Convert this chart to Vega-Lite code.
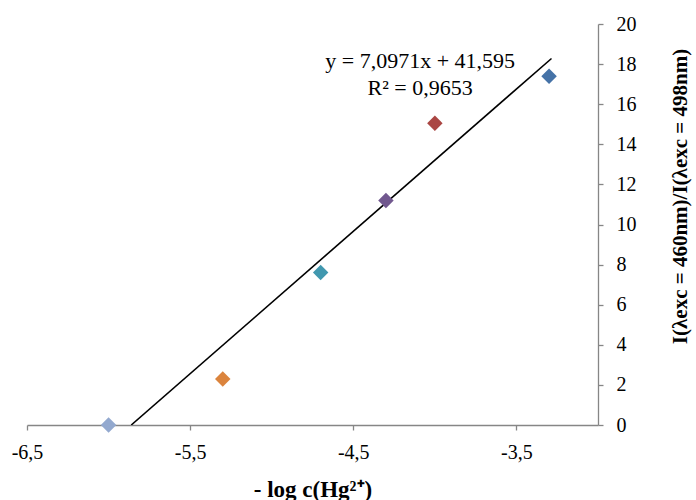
{
  "$schema": "https://vega.github.io/schema/vega-lite/v6.json",
  "autosize": "none",
  "width": 571,
  "height": 401,
  "padding": {"left": 27, "top": 24, "right": 98, "bottom": 75},
  "background": "white",
  "config": {
    "view": {"stroke": null},
    "font": "Liberation Serif"
  },
  "datasets": {
    "points": [
      {"x": -6.0, "y": 0.0, "sample": "a"},
      {"x": -5.3, "y": 2.3, "sample": "b"},
      {"x": -4.7, "y": 7.6, "sample": "c"},
      {"x": -4.3, "y": 11.2, "sample": "d"},
      {"x": -4.0, "y": 15.05, "sample": "e"},
      {"x": -3.3, "y": 17.4, "sample": "f"}
    ],
    "trend": [
      {"x": -5.861, "y": 0.0},
      {"x": -3.285, "y": 18.28}
    ],
    "labels": [
      {"x": -4.09, "y": 18.15, "text": "y = 7,0971x + 41,595"},
      {"x": -4.09, "y": 16.8, "text": "R² = 0,9653"}
    ]
  },
  "layer": [
    {
      "data": {"name": "trend"},
      "mark": {"type": "line", "color": "black", "strokeWidth": 1.6, "clip": true},
      "encoding": {
        "x": {
          "field": "x", "type": "quantitative",
          "scale": {"domain": [-6.5, -3], "nice": false, "zero": false},
          "axis": {
            "orient": "bottom",
            "values": [-6.5, -5.5, -4.5, -3.5],
            "labelExpr": "replace('' + datum.value, '.', ',')",
            "grid": false,
            "domainColor": "#868686",
            "domainWidth": 1.3,
            "tickColor": "#868686",
            "tickSize": 5,
            "tickWidth": 1.3,
            "labelFont": "Liberation Serif",
            "labelFontSize": 20,
            "labelColor": "black",
            "labelPadding": 12,
            "labelFlush": false,
            "labelOverlap": false,
            "title": "- log c(Hg²⁺)",
            "titleFont": "Liberation Serif",
            "titleFontSize": 23,
            "titleFontWeight": "bold",
            "titleColor": "black",
            "titleAnchor": "middle",
            "titleBaseline": "alphabetic",
            "titleY": 71
          }
        },
        "y": {
          "field": "y", "type": "quantitative",
          "scale": {"domain": [0, 20], "nice": false},
          "axis": {
            "orient": "right",
            "values": [0, 2, 4, 6, 8, 10, 12, 14, 16, 18, 20],
            "grid": false,
            "domainColor": "#868686",
            "domainWidth": 1.3,
            "tickColor": "#868686",
            "tickSize": 5,
            "tickWidth": 1.3,
            "labelFont": "Liberation Serif",
            "labelFontSize": 20,
            "labelColor": "black",
            "labelPadding": 13,
            "labelFlush": false,
            "labelOverlap": false,
            "title": "I(λexc = 460nm)/I(λexc = 498nm)",
            "titleFont": "Liberation Serif",
            "titleFontSize": 21,
            "titleFontWeight": "bold",
            "titleColor": "black",
            "titleAngle": 270,
            "titleAlign": "center",
            "titleBaseline": "middle",
            "titleX": 82,
            "titleY": 172
          }
        }
      }
    },
    {
      "data": {"name": "points"},
      "mark": {"type": "point", "shape": "diamond", "filled": true, "opacity": 1, "size": 240},
      "encoding": {
        "x": {"field": "x", "type": "quantitative"},
        "y": {"field": "y", "type": "quantitative"},
        "color": {
          "field": "sample", "type": "nominal",
          "scale": {"domain": ["a", "b", "c", "d", "e", "f"], "range": ["#93A9CF", "#DB843D", "#4198AF", "#71588F", "#AA4643", "#4572A7"]},
          "legend": null
        }
      }
    },
    {
      "data": {"name": "labels"},
      "mark": {"type": "text", "font": "Liberation Serif", "fontSize": 22, "color": "black", "align": "center", "baseline": "middle"},
      "encoding": {
        "x": {"field": "x", "type": "quantitative"},
        "y": {"field": "y", "type": "quantitative"},
        "text": {"field": "text"}
      }
    }
  ]
}
